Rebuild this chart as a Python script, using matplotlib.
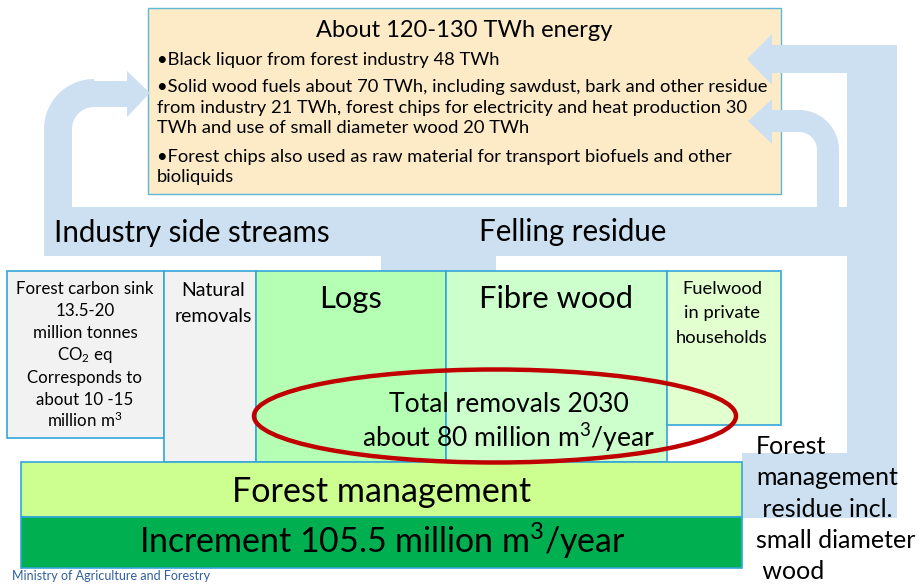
import matplotlib
matplotlib.use("Agg")
import matplotlib.pyplot as plt
from matplotlib.patches import Rectangle, Polygon, Wedge, Ellipse

FONT = ["Lato", "DejaVu Sans"]
plt.rcParams["mathtext.fontset"] = "custom"
plt.rcParams["mathtext.rm"] = "Lato"
plt.rcParams["mathtext.it"] = "Lato:italic"
plt.rcParams["mathtext.bf"] = "Lato:bold"
plt.rcParams["mathtext.default"] = "regular"

# ---- texts / content ----
title = "About 120-130 TWh energy"
bullets = [
    "\u2022Black liquor from forest industry 48 TWh",
    "\u2022Solid wood fuels about 70 TWh, including sawdust, bark and other residue",
    "from industry 21 TWh, forest chips for electricity and heat production 30",
    "TWh and use of small diameter wood 20 TWh",
    "\u2022Forest chips also used as raw material for transport biofuels and other",
    "bioliquids",
]
flow_labels = ["Industry side streams", "Felling residue"]
sink_lines = ["Forest carbon sink", "13.5-20", "million tonnes", "CO$_2$ eq",
              "Corresponds to", "about 10 -15", "million m$^3$"]
natural_lines = ["Natural", "removals"]
fuel_lines = ["Fuelwood", "in private", "households"]
removals_lines = ["Total removals 2030", "about 80 million m$^3$/year"]
residue_lines = ["Forest", "management", " residue incl.", "small diameter", " wood"]
base_labels = ["Forest management", "Increment 105.5 million m$^3$/year"]
footer = "Ministry of Agriculture and Forestry"

ARROW = "#CCE0F1"
EDGE = "#35A6DA"

fig = plt.figure(figsize=(9.2, 5.84), dpi=100)
ax = fig.add_axes([0, 0, 1, 1])
ax.set_xlim(0, 920)
ax.set_ylim(584, 0)
ax.axis("off")
renderer = fig.canvas.get_renderer()


def txt(x, y, s, fs=12, w=None, ha="left", va="baseline", **kw):
    t = ax.text(x, y, s, fontsize=fs, ha=ha, va=va, family=FONT, **kw)
    if w:
        bb = t.get_window_extent(renderer)
        fs = fs * w / bb.width
        t.set_fontsize(fs)
    return t, fs


def fit_size(s, w, fs=12):
    t = ax.text(0, 0, s, fontsize=fs, family=FONT)
    bb = t.get_window_extent(renderer)
    t.remove()
    return fs * w / bb.width


def rect(x0, y0, x1, y1, fc, ec="none", lw=1.0, z=1):
    ax.add_patch(Rectangle((x0, y0), x1 - x0, y1 - y0, facecolor=fc,
                           edgecolor=ec, linewidth=lw, zorder=z))


# ---- top energy box ----
rect(148, 8, 781, 194, "#FDEBC8", "#5DB8D8", 1.0, z=1)

# ---- blue flows ----
Z = 2
rect(44, 207, 847, 256, ARROW, z=Z)
rect(381, 255, 496, 272, ARROW, z=Z)
rect(44, 127, 72, 208, ARROW, z=Z)
ax.add_patch(Wedge((94, 129), 50, 180, 270, width=28, facecolor=ARROW, edgecolor="none", zorder=Z))
rect(93, 81, 128, 107, ARROW, z=Z)
ax.add_patch(Polygon([(127, 71), (150, 93), (127, 117)], closed=True, facecolor=ARROW, edgecolor="none", zorder=Z))
rect(847, 45, 897, 453, ARROW, z=Z)
rect(771, 45, 848, 73, ARROW, z=Z)
ax.add_patch(Polygon([(772, 34), (747, 59), (772, 85)], closed=True, facecolor=ARROW, edgecolor="none", zorder=Z))
rect(742, 453, 897, 518, ARROW, z=Z)
rect(817, 150, 839, 208, ARROW, z=Z)
ax.add_patch(Wedge((799, 150), 40, 270, 360, width=22, facecolor=ARROW, edgecolor="none", zorder=Z))
rect(771, 110, 800, 132, ARROW, z=Z)
ax.add_patch(Polygon([(772, 99), (748, 121), (772, 144)], closed=True, facecolor=ARROW, edgecolor="none", zorder=Z))

# ---- boxes row ----
rect(7, 271, 164, 438, "#F2F2F2", EDGE, 1.2, z=3)
rect(164, 271, 256, 462, "#F2F2F2", EDGE, 1.2, z=3)
rect(256, 271, 446, 462, "#B4FFB4", EDGE, 1.2, z=3)
rect(446, 271, 667, 462, "#CCFFCC", EDGE, 1.2, z=3)
rect(667, 271, 781, 425, "#E2FFCF", EDGE, 1.2, z=3)
rect(21, 462, 742, 517, "#CCFF90", EDGE, 1.2, z=3)
rect(21, 517, 742, 568, "#00B050", EDGE, 1.2, z=3)

ax.add_patch(Ellipse((495, 416), 482, 93, facecolor="none", edgecolor="#C00000", linewidth=3.2, zorder=4))

# ---- texts ----
TZ = 5
txt(464, 37, title, w=296, ha="center", zorder=TZ)
fsb = fit_size(bullets[1], 607)
for s, yb in zip(bullets, [65, 92, 113, 133, 162, 182]):
    txt(157, yb, s, fs=fsb, zorder=TZ)

fsf = fit_size(flow_labels[0], 274)
txt(54, 242, flow_labels[0], fs=fsf, zorder=TZ)
txt(479, 241, flow_labels[1], fs=fsf, zorder=TZ)

fss = fit_size(sink_lines[0], 136)
for s, yb in zip(sink_lines, [294, 316, 338, 360, 383, 405, 427]):
    txt(85, yb, s, fs=fss, ha="center", zorder=TZ)

fsn = fit_size(natural_lines[1], 77)
for s, yb in zip(natural_lines, [296, 322]):
    txt(213, yb, s, fs=fsn, ha="center", zorder=TZ)

fsl = fit_size("Fibre wood", 154)
txt(351, 308, "Logs", fs=fsl, ha="center", zorder=TZ)
txt(556, 308, "Fibre wood", fs=fsl, ha="center", zorder=TZ)

fsu = fit_size(fuel_lines[2], 92)
for s, yb in zip(fuel_lines, [294, 318, 343]):
    txt(722, yb, s, fs=fsu, ha="center", zorder=TZ)

fsr = fit_size(removals_lines[1], 294)
for s, yb in zip(removals_lines, [412, 447]):
    txt(509, yb, s, fs=fsr, ha="center", zorder=TZ)

txt(382, 502, base_labels[0], w=298, ha="center", zorder=TZ)
txt(382, 553, base_labels[1], w=488, ha="center", zorder=TZ)

fsm = fit_size(residue_lines[3], 159)
for s, yb in zip(residue_lines, [454, 485, 517, 548, 579]):
    txt(756, yb, s, fs=fsm, zorder=TZ)

txt(12, 582.5, footer, fs=9, va="bottom", color="#2F5E9E", zorder=TZ)

fig.savefig("out.png", dpi=100)
